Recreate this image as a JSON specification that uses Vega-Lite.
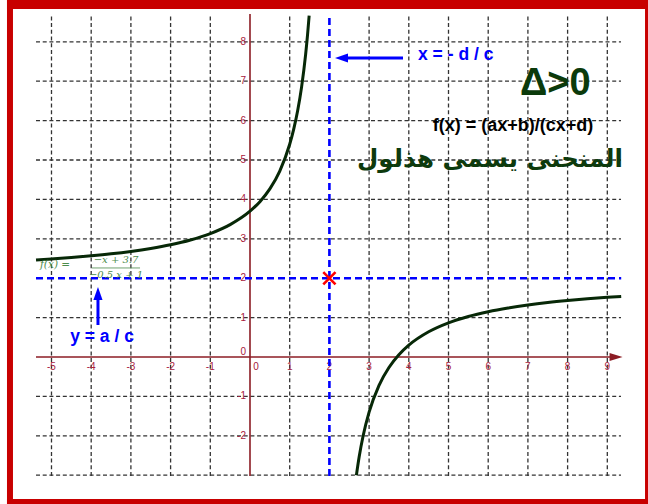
{
  "$schema": "https://vega.github.io/schema/vega-lite/v6.json",
  "width": 648,
  "height": 504,
  "autosize": "none",
  "padding": 0,
  "background": "white",
  "config": {"view": {"stroke": null}},
  "datasets": {
    "frame": [
      {"x": -6.121, "x2": 11, "y": 8.832, "y2": 10},
      {"x": -6.121, "x2": -5.97, "y": -5, "y2": 10},
      {"x": 9.95, "x2": 11, "y": -5, "y2": 10},
      {"x": -6.121, "x2": 11, "y": -5, "y2": -3.604}
    ],
    "grid": [
      {"x": -5, "x2": -5, "y": -3.02, "y2": 8.706},
      {"x": -4, "x2": -4, "y": -3.02, "y2": 8.706},
      {"x": -3, "x2": -3, "y": -3.02, "y2": 8.706},
      {"x": -2, "x2": -2, "y": -3.02, "y2": 8.706},
      {"x": -1, "x2": -1, "y": -3.02, "y2": 8.706},
      {"x": 1, "x2": 1, "y": -3.02, "y2": 8.706},
      {"x": 3, "x2": 3, "y": -3.02, "y2": 8.706},
      {"x": 4, "x2": 4, "y": -3.02, "y2": 8.706},
      {"x": 5, "x2": 5, "y": -3.02, "y2": 8.706},
      {"x": 6, "x2": 6, "y": -3.02, "y2": 8.706},
      {"x": 7, "x2": 7, "y": -3.02, "y2": 8.706},
      {"x": 8, "x2": 8, "y": -3.02, "y2": 8.706},
      {"x": 9, "x2": 9, "y": -3.02, "y2": 8.706},
      {"x": -5.39, "x2": 9.345, "y": -3, "y2": -3},
      {"x": -5.39, "x2": 9.345, "y": -2, "y2": -2},
      {"x": -5.39, "x2": 9.345, "y": -1, "y2": -1},
      {"x": -5.39, "x2": 9.345, "y": 1, "y2": 1},
      {"x": -5.39, "x2": 9.345, "y": 3, "y2": 3},
      {"x": -5.39, "x2": 9.345, "y": 4, "y2": 4},
      {"x": -5.39, "x2": 9.345, "y": 5, "y2": 5},
      {"x": -5.39, "x2": 9.345, "y": 6, "y2": 6},
      {"x": -5.39, "x2": 9.345, "y": 7, "y2": 7},
      {"x": -5.39, "x2": 9.345, "y": 8, "y2": 8}
    ],
    "axes": [
      {"x": -5.39, "x2": 9.2, "y": 0, "y2": 0},
      {"x": 0, "x2": 0, "y": -3.02, "y2": 8.706}
    ],
    "axisArrow": [{"x": 9.22, "y": 0}],
    "xLabels": [
      {"x": -5, "y": -0.25, "label": "-5"},
      {"x": -4, "y": -0.25, "label": "-4"},
      {"x": -3, "y": -0.25, "label": "-3"},
      {"x": -2, "y": -0.25, "label": "-2"},
      {"x": -1, "y": -0.25, "label": "-1"},
      {"x": 0.15, "y": -0.25, "label": "0"},
      {"x": 1, "y": -0.25, "label": "1"},
      {"x": 2, "y": -0.25, "label": "2"},
      {"x": 3, "y": -0.25, "label": "3"},
      {"x": 4, "y": -0.25, "label": "4"},
      {"x": 5, "y": -0.25, "label": "5"},
      {"x": 6, "y": -0.25, "label": "6"},
      {"x": 7, "y": -0.25, "label": "7"},
      {"x": 8, "y": -0.25, "label": "8"},
      {"x": 9, "y": -0.25, "label": "9"}
    ],
    "yLabels": [
      {"x": -0.1, "y": -2, "label": "-2"},
      {"x": -0.1, "y": -1, "label": "-1"},
      {"x": -0.1, "y": 0.12, "label": "0"},
      {"x": -0.1, "y": 1, "label": "1"},
      {"x": -0.1, "y": 2, "label": "2"},
      {"x": -0.1, "y": 3, "label": "3"},
      {"x": -0.1, "y": 4, "label": "4"},
      {"x": -0.1, "y": 5, "label": "5"},
      {"x": -0.1, "y": 6, "label": "6"},
      {"x": -0.1, "y": 7, "label": "7"},
      {"x": -0.1, "y": 8, "label": "8"}
    ],
    "asymptotes": [
      {"x": 2, "x2": 2, "y": -3.02, "y2": 8.706},
      {"x": -5.39, "x2": 9.35, "y": 2, "y2": 2}
    ],
    "curve": [
      {"branch": "left", "x": -5.39, "y": 2.459},
      {"branch": "left", "x": -5, "y": 2.486},
      {"branch": "left", "x": -4.5, "y": 2.523},
      {"branch": "left", "x": -4, "y": 2.567},
      {"branch": "left", "x": -3.5, "y": 2.618},
      {"branch": "left", "x": -3, "y": 2.68},
      {"branch": "left", "x": -2.5, "y": 2.756},
      {"branch": "left", "x": -2, "y": 2.85},
      {"branch": "left", "x": -1.5, "y": 2.971},
      {"branch": "left", "x": -1, "y": 3.133},
      {"branch": "left", "x": -0.5, "y": 3.36},
      {"branch": "left", "x": 0, "y": 3.7},
      {"branch": "left", "x": 0.25, "y": 3.943},
      {"branch": "left", "x": 0.5, "y": 4.267},
      {"branch": "left", "x": 0.75, "y": 4.72},
      {"branch": "left", "x": 1, "y": 5.4},
      {"branch": "left", "x": 1.1, "y": 5.778},
      {"branch": "left", "x": 1.2, "y": 6.25},
      {"branch": "left", "x": 1.3, "y": 6.857},
      {"branch": "left", "x": 1.4, "y": 7.667},
      {"branch": "left", "x": 1.45, "y": 8.182},
      {"branch": "left", "x": 1.49, "y": 8.667},
      {"branch": "right", "x": 2.68, "y": -3.0},
      {"branch": "right", "x": 2.75, "y": -2.533},
      {"branch": "right", "x": 2.85, "y": -2.0},
      {"branch": "right", "x": 3, "y": -1.4},
      {"branch": "right", "x": 3.25, "y": -0.72},
      {"branch": "right", "x": 3.5, "y": -0.267},
      {"branch": "right", "x": 3.75, "y": 0.057},
      {"branch": "right", "x": 4, "y": 0.3},
      {"branch": "right", "x": 4.5, "y": 0.64},
      {"branch": "right", "x": 5, "y": 0.867},
      {"branch": "right", "x": 5.5, "y": 1.029},
      {"branch": "right", "x": 6, "y": 1.15},
      {"branch": "right", "x": 6.5, "y": 1.244},
      {"branch": "right", "x": 7, "y": 1.32},
      {"branch": "right", "x": 7.5, "y": 1.382},
      {"branch": "right", "x": 8, "y": 1.433},
      {"branch": "right", "x": 8.5, "y": 1.477},
      {"branch": "right", "x": 9, "y": 1.514},
      {"branch": "right", "x": 9.35, "y": 1.537}
    ],
    "center": [{"x": 2, "y": 2}],
    "arrowShafts": [
      {"x": 2.393, "x2": 3.854, "y": 7.589, "y2": 7.589},
      {"x": -3.829, "x2": -3.829, "y": 0.812, "y2": 1.55}
    ],
    "leftHead": [{"x": 2.305, "y": 7.589}],
    "upHead": [{"x": -3.829, "y": 1.612}],
    "blueText": [
      {"x": 4.232, "y": 7.66, "label": "x = - d / c"},
      {"x": -4.53, "y": 0.508, "label": "y = a / c"}
    ],
    "delta": [{"x": 6.8, "y": 6.65, "label": "Δ>0"}],
    "general": [{"x": 6.625, "y": 5.736, "label": "f(x) = (ax+b)/(cx+d)"}],
    "arabic": [{"x": 6.045, "y": 4.82, "label": "المنحنى يسمى هذلول"}],
    "fxLhs": [{"x": -5.29, "y": 2.335, "label": "f(x) ="}],
    "fxFrac": [
      {"x": -3.375, "y": 2.46, "label": "−x + 3.7"},
      {"x": -3.375, "y": 2.08, "label": "−0.5 x + 1"}
    ],
    "fxBar": [{"x": -3.98, "x2": -2.77, "y": 2.26, "y2": 2.26}]
  },
  "encoding": {
    "x": {"field": "x", "type": "quantitative", "scale": {"domain": [-6.297, 10.025], "nice": false, "zero": false}, "axis": null},
    "y": {"field": "y", "type": "quantitative", "scale": {"domain": [-3.731, 9.061], "nice": false, "zero": false}, "axis": null}
  },
  "layer": [
    {
      "data": {"name": "frame"},
      "mark": {"type": "rect", "color": "#c80000"},
      "encoding": {"x2": {"field": "x2"}, "y2": {"field": "y2"}}
    },
    {
      "data": {"name": "grid"},
      "mark": {"type": "rule", "stroke": "#333333", "strokeWidth": 1.3, "strokeDash": [4, 2.7]},
      "encoding": {"x2": {"field": "x2"}, "y2": {"field": "y2"}}
    },
    {
      "data": {"name": "axes"},
      "mark": {"type": "rule", "stroke": "#8c1c24", "strokeWidth": 1.6},
      "encoding": {"x2": {"field": "x2"}, "y2": {"field": "y2"}}
    },
    {
      "data": {"name": "axisArrow"},
      "mark": {"type": "point", "shape": "M-1,-0.6L1,0L-1,0.6Z", "size": 169, "filled": true, "color": "#8c1c24", "opacity": 1},
      "encoding": {}
    },
    {
      "data": {"name": "xLabels"},
      "mark": {"type": "text", "font": "Liberation Sans", "fontSize": 10, "color": "#a8203c", "align": "center", "baseline": "middle"},
      "encoding": {"text": {"field": "label"}}
    },
    {
      "data": {"name": "yLabels"},
      "mark": {"type": "text", "font": "Liberation Sans", "fontSize": 10, "color": "#a8203c", "align": "right", "baseline": "middle"},
      "encoding": {"text": {"field": "label"}}
    },
    {
      "data": {"name": "asymptotes"},
      "mark": {"type": "rule", "stroke": "#0000ff", "strokeWidth": 2.6, "strokeDash": [7, 4]},
      "encoding": {"x2": {"field": "x2"}, "y2": {"field": "y2"}}
    },
    {
      "data": {"name": "curve"},
      "mark": {"type": "line", "stroke": "#072807", "strokeWidth": 3, "interpolate": "monotone"},
      "encoding": {"detail": {"field": "branch"}}
    },
    {
      "data": {"name": "center"},
      "mark": {"type": "point", "shape": "M-1,-1L1,1M-1,1L1,-1", "size": 150, "filled": false, "stroke": "#ff0000", "strokeWidth": 2.6, "opacity": 1},
      "encoding": {}
    },
    {
      "data": {"name": "arrowShafts"},
      "mark": {"type": "rule", "stroke": "#0000ff", "strokeWidth": 3},
      "encoding": {"x2": {"field": "x2"}, "y2": {"field": "y2"}}
    },
    {
      "data": {"name": "leftHead"},
      "mark": {"type": "point", "shape": "M-1,0L1,-0.7L1,0.7Z", "size": 169, "filled": true, "color": "#0000ff", "opacity": 1},
      "encoding": {}
    },
    {
      "data": {"name": "upHead"},
      "mark": {"type": "point", "shape": "M0,-1L0.7,1L-0.7,1Z", "size": 169, "filled": true, "color": "#0000ff", "opacity": 1},
      "encoding": {}
    },
    {
      "data": {"name": "blueText"},
      "mark": {"type": "text", "font": "Liberation Sans", "fontSize": 17.5, "fontWeight": "bold", "color": "#0000ff", "align": "left", "baseline": "middle"},
      "encoding": {"text": {"field": "label"}}
    },
    {
      "data": {"name": "delta"},
      "mark": {"type": "text", "font": "Liberation Sans", "fontSize": 38, "fontWeight": "bold", "color": "#0b3a0b", "align": "left", "baseline": "alphabetic"},
      "encoding": {"text": {"field": "label"}}
    },
    {
      "data": {"name": "general"},
      "mark": {"type": "text", "font": "Liberation Sans", "fontSize": 18, "fontWeight": "bold", "color": "#000000", "align": "center", "baseline": "alphabetic"},
      "encoding": {"text": {"field": "label"}}
    },
    {
      "data": {"name": "arabic"},
      "mark": {"type": "text", "font": "DejaVu Sans", "fontSize": 24.5, "fontWeight": "bold", "color": "#0d3a0d", "align": "center", "baseline": "alphabetic"},
      "encoding": {"text": {"field": "label"}}
    },
    {
      "data": {"name": "fxLhs"},
      "mark": {"type": "text", "font": "DejaVu Serif", "fontSize": 10.5, "fontStyle": "italic", "color": "#4c8c4c", "align": "left", "baseline": "middle"},
      "encoding": {"text": {"field": "label"}}
    },
    {
      "data": {"name": "fxFrac"},
      "mark": {"type": "text", "font": "DejaVu Serif", "fontSize": 10, "fontStyle": "italic", "color": "#4c8c4c", "align": "center", "baseline": "middle"},
      "encoding": {"text": {"field": "label"}}
    },
    {
      "data": {"name": "fxBar"},
      "mark": {"type": "rule", "stroke": "#4c8c4c", "strokeWidth": 0.8},
      "encoding": {"x2": {"field": "x2"}, "y2": {"field": "y2"}}
    }
  ]
}
